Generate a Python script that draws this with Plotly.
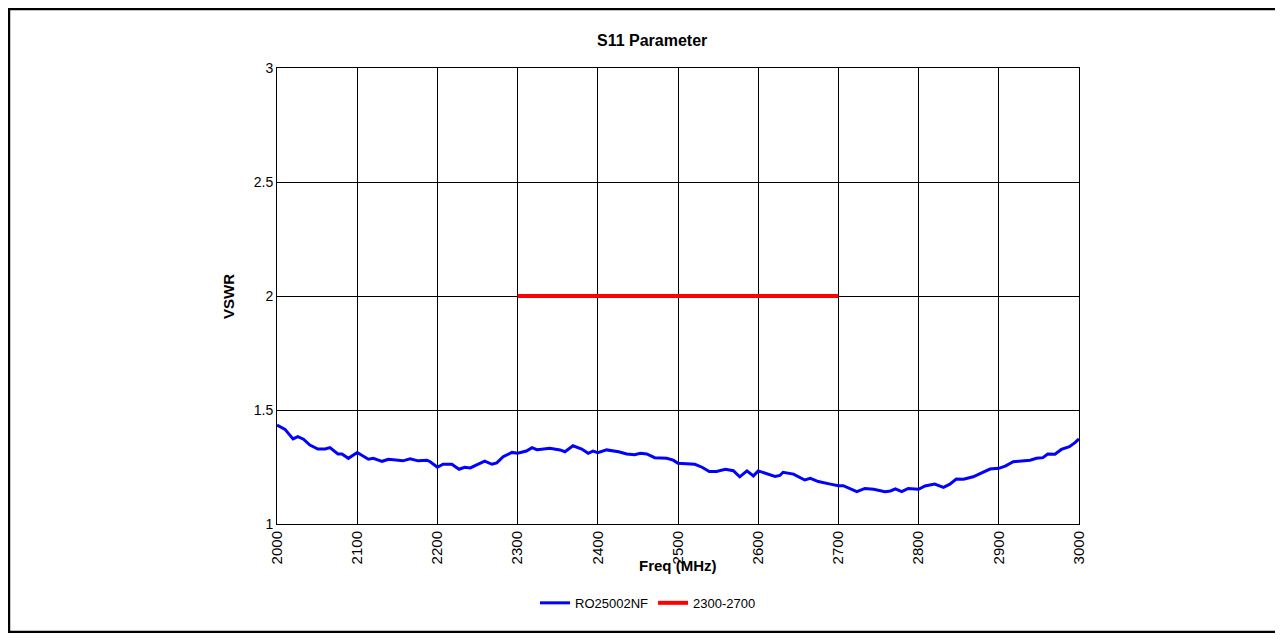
import plotly.graph_objects as go

# ---- data ----
freq = [2000, 2010, 2020, 2026, 2033, 2041, 2051, 2060, 2066, 2076, 2081, 2089,
        2100, 2114, 2120, 2131, 2139, 2149, 2157, 2166, 2176, 2187, 2191,
        2200, 2207, 2218, 2227, 2234, 2241, 2251, 2259, 2268, 2274, 2282, 2293,
        2300, 2311, 2318, 2324, 2330, 2340, 2353, 2359, 2369, 2380, 2388, 2394,
        2400, 2411, 2426, 2436, 2446, 2453, 2461, 2471, 2486, 2494,
        2500, 2509, 2521, 2530, 2539, 2548, 2559, 2569, 2577, 2586, 2594,
        2600, 2611, 2621, 2627, 2631, 2644, 2658, 2665, 2675, 2690,
        2700, 2706, 2714, 2723, 2733, 2744, 2758, 2765, 2771, 2779, 2787,
        2800, 2808, 2820, 2831, 2839, 2847, 2856, 2868, 2877, 2889,
        2900, 2908, 2918, 2926, 2939, 2947, 2955, 2961, 2970, 2978, 2988, 2995, 3000]
vswr = [1.434, 1.415, 1.373, 1.383, 1.372, 1.346, 1.329, 1.329, 1.335, 1.307, 1.307, 1.288,
        1.314, 1.284, 1.288, 1.275, 1.284, 1.280, 1.277, 1.286, 1.277, 1.280, 1.273,
        1.249, 1.262, 1.262, 1.240, 1.249, 1.246, 1.263, 1.276, 1.262, 1.268, 1.295, 1.314,
        1.310, 1.320, 1.335, 1.326, 1.328, 1.332, 1.325, 1.317, 1.343, 1.329, 1.310, 1.320,
        1.313, 1.325, 1.317, 1.307, 1.304, 1.310, 1.307, 1.291, 1.288, 1.280,
        1.266, 1.263, 1.262, 1.249, 1.230, 1.230, 1.240, 1.234, 1.207, 1.233, 1.211,
        1.233, 1.219, 1.209, 1.213, 1.227, 1.219, 1.193, 1.200, 1.186, 1.175,
        1.168, 1.168, 1.156, 1.142, 1.156, 1.152, 1.142, 1.145, 1.154, 1.142, 1.156,
        1.152, 1.167, 1.175, 1.161, 1.175, 1.197, 1.196, 1.207, 1.222, 1.241,
        1.244, 1.254, 1.273, 1.276, 1.280, 1.288, 1.291, 1.307, 1.306, 1.327, 1.339, 1.357, 1.373]

band_x = [2300, 2700]
band_y = [2, 2]

x_ticks = [2000, 2100, 2200, 2300, 2400, 2500, 2600, 2700, 2800, 2900, 3000]
y_ticks = [1, 1.5, 2, 2.5, 3]
y_labels = ["1", "1.5", "2", "2.5", "3"]

font = "Liberation Sans, Arial, sans-serif"

fig = go.Figure()
fig.add_trace(go.Scatter(x=freq, y=vswr, mode="lines", name="RO25002NF",
                         line=dict(color="#0000ff", width=3)))
fig.add_trace(go.Scatter(x=band_x, y=band_y, mode="lines", name="2300-2700",
                         line=dict(color="#ff0000", width=4)))

# page has an 8px body margin, so the figure is sized/placed to compensate
fig.update_layout(
    width=1267, height=625,
    margin=dict(l=269, r=196, t=60, b=109),
    paper_bgcolor="white", plot_bgcolor="white",
    font=dict(family=font, size=13, color="black"),
    showlegend=True,
    legend=dict(orientation="h", x=0.4626, xanchor="center", y=-0.173, yanchor="middle",
                font=dict(size=13), itemwidth=30, bgcolor="rgba(0,0,0,0)"),
    annotations=[
        dict(text="<b>S11 Parameter</b>", x=0.4676, y=1.061, xref="paper", yref="paper",
             showarrow=False, font=dict(size=16), xanchor="center", yanchor="middle"),
        dict(text="<b>VSWR</b>", x=-0.0611, y=0.5, xref="paper", yref="paper",
             showarrow=False, textangle=-90, font=dict(size=15),
             xanchor="center", yanchor="middle"),
        dict(text="<b>Freq (MHz)</b>", x=0.5, y=-0.0921, xref="paper", yref="paper",
             showarrow=False, font=dict(size=15), xanchor="center", yanchor="middle"),
    ],
    shapes=[
        dict(type="rect", xref="paper", yref="paper",
             x0=-0.3342, x1=1.3, y0=-0.2368, y1=1.1294,
             line=dict(color="black", width=2.5), fillcolor="rgba(0,0,0,0)", layer="below"),
    ],
)

fig.update_xaxes(range=[2000, 3000], tickvals=x_ticks, tickangle=-90,
                 showgrid=True, gridcolor="black", gridwidth=1,
                 showline=True, linecolor="black", linewidth=1, mirror=True,
                 ticks="", zeroline=False, tickfont=dict(size=15))
fig.update_yaxes(range=[1, 3], tickvals=y_ticks, ticktext=y_labels,
                 showgrid=True, gridcolor="black", gridwidth=1,
                 showline=True, linecolor="black", linewidth=1, mirror=True,
                 ticks="", zeroline=False, tickfont=dict(size=14))

fig.write_html("out.html")
